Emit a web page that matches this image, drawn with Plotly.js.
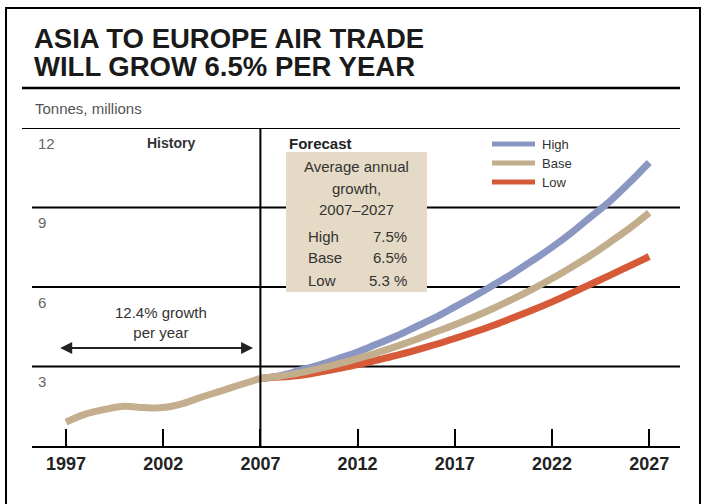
<!DOCTYPE html>
<html><head><meta charset="utf-8">
<script src="https://cdn.plot.ly/plotly-3.0.1.min.js"></script>
<style>html,body{margin:0;padding:0;background:#fff}#chart{width:703px;height:504px}</style>
</head><body><div id="chart"></div>
<script>
// ---- data ----
const historyYears = [1997,1998,1999,2000,2001,2002,2003,2004,2005,2006,2007];
const historyValues = [0.9,1.2,1.38,1.5,1.45,1.45,1.6,1.85,2.08,2.32,2.55];
const forecastYears = [2007,2008,2009,2010,2011,2012,2013,2014,2015,2016,2017,2018,2019,2020,2021,2022,2023,2024,2025,2026,2027];
const highValues = [2.55,2.65,2.85,3.05,3.3,3.55,3.85,4.15,4.5,4.85,5.25,5.65,6.08,6.52,7.0,7.5,8.05,8.65,9.25,9.95,10.7];
const baseValues = [2.55,2.63,2.76,2.92,3.1,3.3,3.52,3.76,4.02,4.3,4.58,4.88,5.2,5.55,5.92,6.32,6.75,7.2,7.7,8.22,8.8];
const lowValues  = [2.55,2.6,2.66,2.78,2.92,3.07,3.24,3.42,3.62,3.83,4.06,4.3,4.56,4.84,5.13,5.44,5.77,6.11,6.45,6.8,7.15];
const seriesNames = ['High','Base','Low'];
const growthRates = ['7.5%','6.5%','5.3 %'];
const xTickVals = [1997,2002,2007,2012,2017,2022,2027];
const yTickVals = [3,6,9,12];
const titleLines = ['ASIA TO EUROPE AIR TRADE','WILL GROW 6.5% PER YEAR'];
const unitLabel = 'Tonnes, millions';
const historyRate = '12.4% growth<br>per year';

// ---- style ----
const W = 703, H = 504;
const M = {l:32, r:23, t:128, b:58};
const PW = W - M.l - M.r, PH = H - M.t - M.b;
const px = x => (x - M.l) / PW;            // pixel -> paper x
const py = y => (H - M.b - y) / PH;        // pixel -> paper y
const FONT = '"Liberation Sans", Arial, Helvetica, sans-serif';
const colors = {High:'#8b97c3', Base:'#c2ae8c', Low:'#d65a38', hist:'#c4ae8e'};
const lw = 7;

const traces = [
  {x: historyYears, y: historyValues, mode:'lines', line:{color:colors.hist, width:lw, shape:'spline'}, showlegend:false, hoverinfo:'skip'},
  {x: forecastYears, y: highValues, name: seriesNames[0], mode:'lines', line:{color:colors.High, width:lw, shape:'spline'}, showlegend:false},
  {x: forecastYears, y: lowValues, name: seriesNames[2], mode:'lines', line:{color:colors.Low, width:lw, shape:'spline'}, showlegend:false},
  {x: forecastYears, y: baseValues, name: seriesNames[1], mode:'lines', line:{color:colors.Base, width:lw, shape:'spline'}, showlegend:false}
];

const shapes = [];
// outer frame
shapes.push({type:'rect', xref:'paper', yref:'paper', x0:px(6), x1:px(700), y0:py(510), y1:py(8), line:{color:'#000', width:2}, layer:'below'});
// title rule
shapes.push({type:'line', xref:'paper', yref:'paper', x0:px(22), x1:px(680), y0:py(88), y1:py(88), line:{color:'#000', width:2.5}, layer:'below'});
// horizontal gridlines
yTickVals.forEach(v => {
  shapes.push({type:'line', xref:'paper', yref:'y', x0: v===12 ? px(22) : 0, x1:px(680), y0:v, y1:v, line:{color:'#000', width:2}, layer:'below'});
});
// history/forecast divider
shapes.push({type:'line', xref:'x', yref:'paper', x0:2007, x1:2007, y0:0, y1:1, line:{color:'#000', width:2}, layer:'above'});
// growth box
shapes.push({type:'rect', xref:'paper', yref:'paper', x0:px(286), x1:px(427), y0:py(292), y1:py(152), fillcolor:'#e5dac5', line:{width:0}, layer:'above'});

const annotations = [];
const txt = (text, xp, yp, opts={}) => Object.assign({text, xref:'paper', yref:'paper', x:px(xp), y:py(yp), showarrow:false, xanchor:'center', yanchor:'middle', font:{family:FONT, size:15, color:'#333'}}, opts);

// title
annotations.push(txt('<b>'+titleLines[0]+'</b>', 32, 38, {xanchor:'left', font:{family:FONT, size:27.5, color:'#1a1a1a'}}));
annotations.push(txt('<b>'+titleLines[1]+'</b>', 32, 67, {xanchor:'left', font:{family:FONT, size:27.5, color:'#1a1a1a'}}));
annotations.push(txt(unitLabel, 33, 108, {xanchor:'left', font:{family:FONT, size:15, color:'#555'}}));
yTickVals.forEach(v => {
  annotations.push({text:String(v), xref:'paper', yref:'y', x:px(36), y:v, yshift:-15, showarrow:false, xanchor:'left', yanchor:'middle', font:{family:FONT, size:15, color:'#666'}});
});
annotations.push(txt('<b>History</b>', 171, 143, {font:{family:FONT, size:14, color:'#333'}}));
annotations.push(txt('<b>Forecast</b>', 287, 143, {xanchor:'left', font:{family:FONT, size:15, color:'#222'}}));
annotations.push(txt('Average annual', 356, 166));
annotations.push(txt('growth,', 356, 188));
annotations.push(txt('2007–2027', 356, 209));
[236,257,280].forEach((yy,i) => {
  annotations.push(txt(seriesNames[i], 306, yy, {xanchor:'left'}));
  annotations.push(txt(growthRates[i], 409, yy, {xanchor:'right'}));
});
annotations.push(txt(historyRate, 161, 322, {font:{family:FONT, size:15, color:'#333'}}));
// double arrow
annotations.push({xref:'x', yref:'y', axref:'x', ayref:'y', x:1996.7, y:3.7, ax:2006.7, ay:3.7, text:'', showarrow:true, arrowhead:2, arrowside:'end+start', arrowsize:1.2, arrowwidth:2, arrowcolor:'#222'});

// custom legend
[144,163,182].forEach((yy,i) => {
  shapes.push({type:'line', xref:'paper', yref:'paper', x0:px(492), x1:px(535), y0:py(yy), y1:py(yy), line:{color:colors[seriesNames[i]], width:5}, layer:'above'});
  annotations.push(txt(seriesNames[i], 540, yy, {xanchor:'left', font:{family:FONT, size:13, color:'#333'}}));
});

const layout = {
  width:W, height:H, margin:M,
  paper_bgcolor:'#fff', plot_bgcolor:'rgba(0,0,0,0)',
  xaxis:{range:[1997-34/19.44, 1997+614/19.44], tickvals:xTickVals, ticks:'inside', ticklen:17, tickwidth:2, tickcolor:'#000',
         showline:true, linecolor:'#000', linewidth:2, showgrid:false, zeroline:false,
         tickfont:{family:FONT, size:18, color:'#222', weight:'bold'}, fixedrange:true},
  yaxis:{range:[0,12], showticklabels:false, showgrid:false, zeroline:false, showline:false, ticks:'', fixedrange:true},
  showlegend:false,
  shapes, annotations
};
Plotly.newPlot('chart', traces, layout, {displayModeBar:false, staticPlot:true});
</script></body></html>
